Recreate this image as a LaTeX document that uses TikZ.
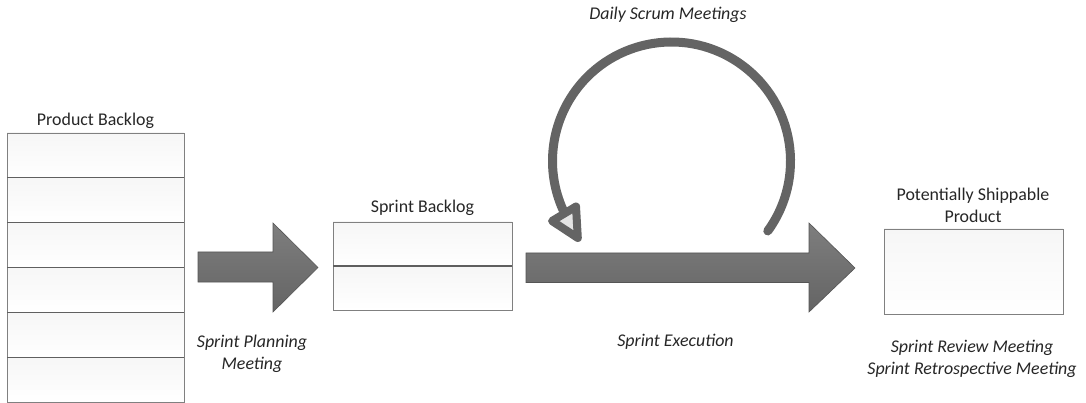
\documentclass[tikz,border=0pt]{standalone}
\usepackage{fontspec}
\setmainfont{Carlito}
\definecolor{txt}{RGB}{38,38,38}
\definecolor{arrowtop}{RGB}{126,126,126}
\definecolor{arrowbot}{RGB}{100,100,100}
\definecolor{arrowedge}{RGB}{85,85,85}
\definecolor{boxedge}{RGB}{128,128,128}
\definecolor{divider}{RGB}{95,95,95}
\definecolor{loopgray}{RGB}{100,100,100}
\definecolor{headfill}{RGB}{228,228,228}
\begin{document}
\begin{tikzpicture}[x=1pt,y=-1pt,
  lbl/.style={inner sep=0pt, align=center, text=txt, font=\fontsize{17.9}{22}\selectfont},
  ilbl/.style={lbl, font=\fontsize{17.9}{22}\selectfont\itshape},
  cell/.style={draw=boxedge, line width=0.8pt, top color=gray!7, bottom color=white, inner sep=0pt, outer sep=0pt},
  divline/.style={draw=divider, line width=1.1pt},
  blockarrow/.style={top color=arrowtop, bottom color=arrowbot, draw=arrowedge, line width=0.6pt, line join=miter},
  loopline/.style={draw=loopgray, line width=9pt, line cap=round},
  loophead/.style={fill=headfill, draw=loopgray, line width=8pt, line join=round}
]
\useasboundingbox (0,0) rectangle (1086,403);

% Product Backlog
\node[lbl] (pbl) at (95.5,120.5) {Product Backlog};
\foreach \i in {1,...,6}{
  \node[cell, minimum width=177pt, minimum height=44.83pt] (pb\i) at (95.5,{133+44.83*(\i-1)+22.415}) {};
}
\foreach \i in {1,...,5}{
  \draw[divline] (pb\i.south west) -- (pb\i.south east);
}

% Arrow 1
\shade[blockarrow] (198,252) -- (273,252) -- (273,223) -- (318,267.5) -- (273,312) -- (273,282) -- (198,282) -- cycle;
\node[ilbl] (spm) at (252,354) {Sprint Planning\\Meeting};

% Sprint Backlog
\node[lbl] (sbl) at (422.5,208) {Sprint Backlog};
\node[cell, minimum width=179pt, minimum height=44pt] (sb1) at (422.5,244) {};
\node[cell, minimum width=179pt, minimum height=44pt] (sb2) at (422.5,288) {};
\draw[divline] (sb1.south west) -- (sb1.south east);

% Sprint execution arrow
\shade[blockarrow] (526,253) -- (809,253) -- (809,223) -- (855,268) -- (809,312) -- (809,282.5) -- (526,282.5) -- cycle;
\node[ilbl] (sex) at (675.5,342) {Sprint Execution};

% Daily scrum loop
\coordinate (loopc) at (671.5,161);
\draw[loopline] (loopc) ++(36:119) arc[start angle=36, end angle=-204, radius=119];
\filldraw[loophead] (552,221) -- (576,206.5) -- (577.8,238) -- cycle;
\node[ilbl] (dsm) at (668,15) {Daily Scrum Meetings};

% Potentially shippable product
\node[lbl] (psl) at (973,205) {Potentially Shippable\\Product};
\node[cell, minimum width=179pt, minimum height=85pt] (psp) at (973.5,271.5) {};
\node[ilbl] (srm) at (972,359) {Sprint Review Meeting\\Sprint Retrospective Meeting};
\end{tikzpicture}
\end{document}
